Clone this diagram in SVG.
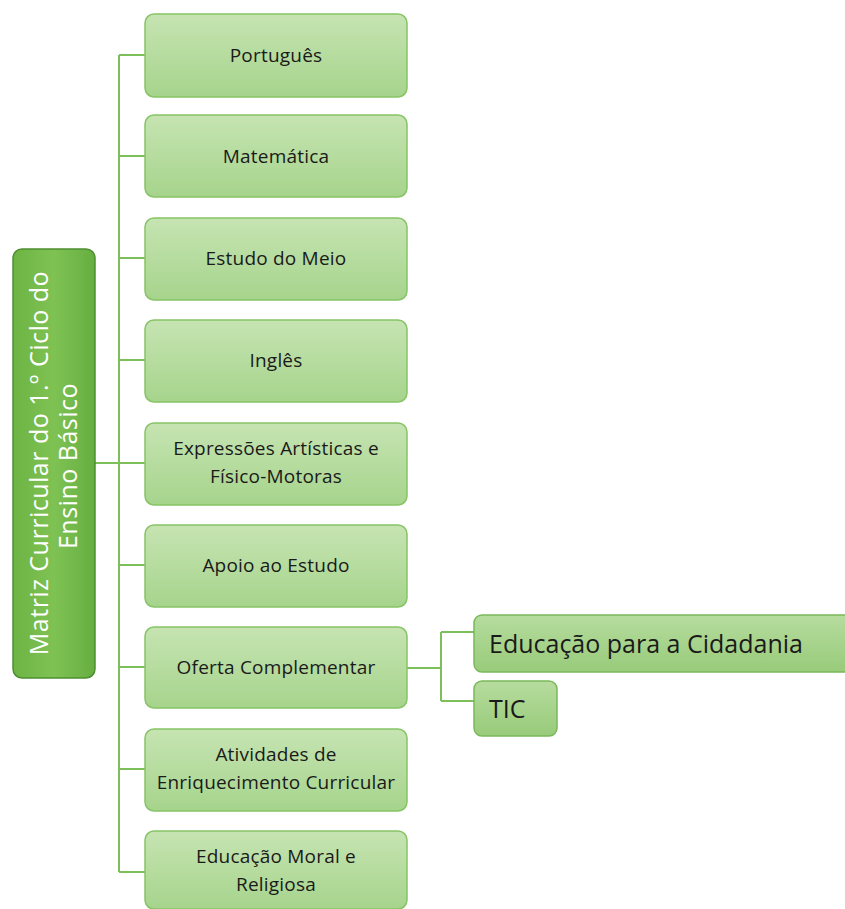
<svg xmlns="http://www.w3.org/2000/svg" width="845" height="909" viewBox="0 0 845 909">
<defs>
<linearGradient id="gChild" x1="0" y1="0" x2="0" y2="1"><stop offset="0" stop-color="#c6e4b2"/><stop offset="1" stop-color="#a6d48c"/></linearGradient>
<linearGradient id="gSub" x1="0" y1="0" x2="0" y2="1"><stop offset="0" stop-color="#b6dc9e"/><stop offset="1" stop-color="#98cb7a"/></linearGradient>
<linearGradient id="gRoot" x1="0" y1="0" x2="1" y2="0"><stop offset="0" stop-color="#6cb444"/><stop offset="0.5" stop-color="#7fc254"/><stop offset="1" stop-color="#66ae40"/></linearGradient>
</defs>
<style>
.child{fill:url(#gChild);stroke:#86c466;stroke-width:1.5}
.sub{fill:url(#gSub);stroke:#7ab85a;stroke-width:1.5}
.root{fill:url(#gRoot);stroke:#4f8f31;stroke-width:1.5}
.t{font-family:"Open Sans","Liberation Sans",sans-serif;font-size:19px;fill:#1a1a1a;text-anchor:middle;letter-spacing:0.2px}
.ts{font-family:"Open Sans","Liberation Sans",sans-serif;font-size:25px;fill:#1a1a1a}
.tr{font-family:"Open Sans","Liberation Sans",sans-serif;font-size:25px;fill:#ffffff;text-anchor:middle;letter-spacing:0.5px}
.c{fill:none;stroke:#7dbf5a;stroke-width:2}
</style>
<g id="connectors">
<path class="c" d="M95 463 H119"/>
<path class="c" d="M119 55 V872"/>
<path class="c" d="M119 55 H145 M119 156 H145 M119 258 H145 M119 360 H145 M119 463 H145 M119 565 H145 M119 667 H145 M119 769 H145 M119 872 H145"/>
<path class="c" d="M407 668 H441 M441 632 V701 M441 632 H474 M441 701 H474"/>
</g>
<g id="root">
<rect class="root" x="13" y="249" width="82" height="429" rx="9"/>
<text class="tr" transform="translate(48,463) rotate(-90)">Matriz Curricular do 1.º Ciclo do</text>
<text class="tr" transform="translate(77,466) rotate(-90)">Ensino Básico</text>
</g>
<g id="n1"><rect class="child" x="145" y="14" width="262" height="83" rx="9"/><text class="t" x="276" y="62">Português</text></g>
<g id="n2"><rect class="child" x="145" y="115" width="262" height="82" rx="9"/><text class="t" x="276" y="163">Matemática</text></g>
<g id="n3"><rect class="child" x="145" y="218" width="262" height="82" rx="9"/><text class="t" x="276" y="265">Estudo do Meio</text></g>
<g id="n4"><rect class="child" x="145" y="320" width="262" height="82" rx="9"/><text class="t" x="276" y="367">Inglês</text></g>
<g id="n5"><rect class="child" x="145" y="423" width="262" height="82" rx="9"/><text class="t" x="276" y="455">Expressões Artísticas e</text><text class="t" x="276" y="483">Físico-Motoras</text></g>
<g id="n6"><rect class="child" x="145" y="525" width="262" height="82" rx="9"/><text class="t" x="276" y="572">Apoio ao Estudo</text></g>
<g id="n7"><rect class="child" x="145" y="627" width="262" height="81" rx="9"/><text class="t" x="276" y="674">Oferta Complementar</text></g>
<g id="n8"><rect class="child" x="145" y="729" width="262" height="82" rx="9"/><text class="t" x="276" y="761">Atividades de</text><text class="t" x="276" y="789">Enriquecimento Curricular</text></g>
<g id="n9"><rect class="child" x="145" y="831" width="262" height="78" rx="9"/><text class="t" x="276" y="863">Educação Moral e</text><text class="t" x="276" y="891">Religiosa</text></g>
<g id="s1"><rect class="sub" x="474" y="615" width="385" height="57" rx="8"/><text class="ts" x="489" y="653">Educação para a Cidadania</text></g>
<g id="s2"><rect class="sub" x="474" y="681" width="83" height="55" rx="8"/><text class="ts" x="489" y="718">TIC</text></g>
</svg>
